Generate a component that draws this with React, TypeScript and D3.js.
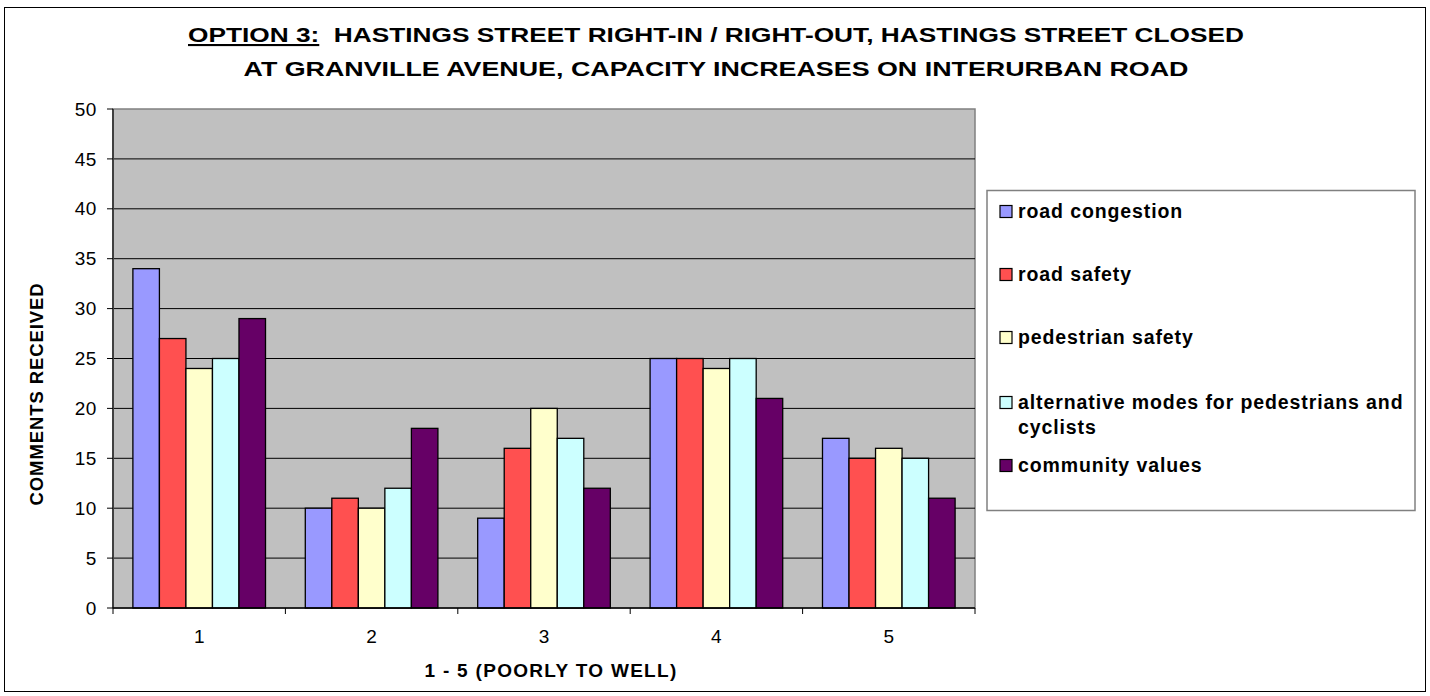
import * as d3 from "d3";

const categories = ["1", "2", "3", "4", "5"];
const seriesNames = [
  "road congestion",
  "road safety",
  "pedestrian safety",
  "alternative modes for pedestrians and cyclists",
  "community values",
];
const roadCongestion = [34, 10, 9, 25, 17];
const roadSafety = [27, 11, 16, 25, 15];
const pedestrianSafety = [24, 10, 20, 24, 16];
const alternativeModes = [25, 12, 17, 25, 15];
const communityValues = [29, 18, 12, 21, 11];
const yTicks = [0, 5, 10, 15, 20, 25, 30, 35, 40, 45, 50];

const seriesValues = [roadCongestion, roadSafety, pedestrianSafety, alternativeModes, communityValues];
const colors = ["#9999FF", "#FF5050", "#FFFFCC", "#CCFFFF", "#660066"];

const W = 1430;
const H = 696;
const plot = { left: 113, right: 975, top: 109, bottom: 608 };
const FONT = "'Liberation Sans', Arial, sans-serif";

export default function App() {
  const x0 = d3
    .scaleBand<string>()
    .domain(categories)
    .range([plot.left, plot.right])
    .paddingInner(0)
    .paddingOuter(0);

  const bw = x0.bandwidth();
  // excel gap width 150%
  const gap = bw * (1.5 / 6.5) / 2;
  const x1 = d3
    .scaleBand<number>()
    .domain(d3.range(seriesNames.length))
    .range([gap, bw - gap]);

  const y = d3.scaleLinear().domain([0, 50]).range([plot.bottom, plot.top]);

  const legendRows = [
    { lines: ["road congestion"], y: 211 },
    { lines: ["road safety"], y: 274 },
    { lines: ["pedestrian safety"], y: 337 },
    { lines: ["alternative modes for pedestrians and", "cyclists"], y: 402 },
    { lines: ["community values"], y: 465 },
  ];

  return (
    <div style={{ position: "fixed", left: 0, top: 0 }}>
      <svg width={W} height={H} style={{ display: "block", background: "#fff" }} fontFamily={FONT}>
        <rect x={4.5} y={7.5} width={1421} height={684} fill="#fff" stroke="#000" strokeWidth={1} />

        {/* title */}
        <text
          x={716}
          y={42}
          textAnchor="middle"
          fontSize={21}
          fontWeight="bold"
          textLength={1056}
          lengthAdjust="spacingAndGlyphs"
        >
          <tspan textDecoration="underline">OPTION 3:</tspan>
          <tspan>{"\u00a0 HASTINGS STREET RIGHT-IN / RIGHT-OUT, HASTINGS STREET CLOSED"}</tspan>
        </text>
        <text
          x={716}
          y={76}
          textAnchor="middle"
          fontSize={21}
          fontWeight="bold"
          textLength={945}
          lengthAdjust="spacingAndGlyphs"
        >
          AT GRANVILLE AVENUE, CAPACITY INCREASES ON INTERURBAN ROAD
        </text>

        {/* plot area */}
        <rect
          x={plot.left}
          y={plot.top}
          width={plot.right - plot.left}
          height={plot.bottom - plot.top}
          fill="#C0C0C0"
          stroke="#808080"
          strokeWidth={1.5}
        />
        {yTicks
          .filter((t) => t > 0 && t < 50)
          .map((t) => (
            <line key={t} x1={plot.left} x2={plot.right} y1={y(t)} y2={y(t)} stroke="#000" strokeWidth={1} />
          ))}

        {/* bars */}
        {categories.map((c, ci) => (
          <g key={c} transform={`translate(${x0(c)},0)`}>
            {seriesValues.map((vals, si) => (
              <rect
                key={si}
                x={x1(si)}
                y={y(vals[ci])}
                width={x1.bandwidth()}
                height={y(0) - y(vals[ci])}
                fill={colors[si]}
                stroke="#000"
                strokeWidth={1.3}
              />
            ))}
          </g>
        ))}

        {/* y axis */}
        <line x1={plot.left} x2={plot.left} y1={plot.top} y2={plot.bottom} stroke="#404040" strokeWidth={2} />
        {yTicks.map((t) => (
          <g key={t}>
            <line x1={plot.left - 6} x2={plot.left} y1={y(t)} y2={y(t)} stroke="#000" strokeWidth={1} />
            <text x={97} y={y(t)} dy="0.35em" textAnchor="end" fontSize={19} letterSpacing={0.6}>
              {t}
            </text>
          </g>
        ))}

        {/* x axis */}
        <line x1={plot.left} x2={plot.right} y1={plot.bottom} y2={plot.bottom} stroke="#000" strokeWidth={1.5} />
        {categories.map((c) => (
          <line
            key={"t" + c}
            x1={x0(c)!}
            x2={x0(c)!}
            y1={plot.bottom}
            y2={plot.bottom + 6}
            stroke="#000"
          />
        ))}
        <line x1={plot.right} x2={plot.right} y1={plot.bottom} y2={plot.bottom + 6} stroke="#000" />
        {categories.map((c) => (
          <text key={"l" + c} x={x0(c)! + bw / 2} y={643} textAnchor="middle" fontSize={19}>
            {c}
          </text>
        ))}

        {/* axis titles */}
        <text x={551} y={677} textAnchor="middle" fontSize={19} fontWeight="bold" letterSpacing={1.3}>
          1 - 5 (POORLY TO WELL)
        </text>
        <text
          transform="translate(43,394) rotate(-90)"
          textAnchor="middle"
          fontSize={18.5}
          fontWeight="bold"
          letterSpacing={0.9}
        >
          COMMENTS RECEIVED
        </text>

        {/* legend */}
        <rect x={987} y={190.5} width={428} height={320} fill="#fff" stroke="#808080" strokeWidth={1.5} />
        {legendRows.map((row, i) => (
          <g key={i}>
            <rect x={1000} y={row.y - 5.5} width={12} height={12} fill={colors[i]} stroke="#000" strokeWidth={1.2} />
            {row.lines.map((ln, li) => (
              <text
                key={li}
                x={1018}
                y={row.y + li * 25}
                dy="0.35em"
                fontSize={19.5}
                fontWeight="bold"
                letterSpacing={0.9}
              >
                {ln}
              </text>
            ))}
          </g>
        ))}
      </svg>
    </div>
  );
}
